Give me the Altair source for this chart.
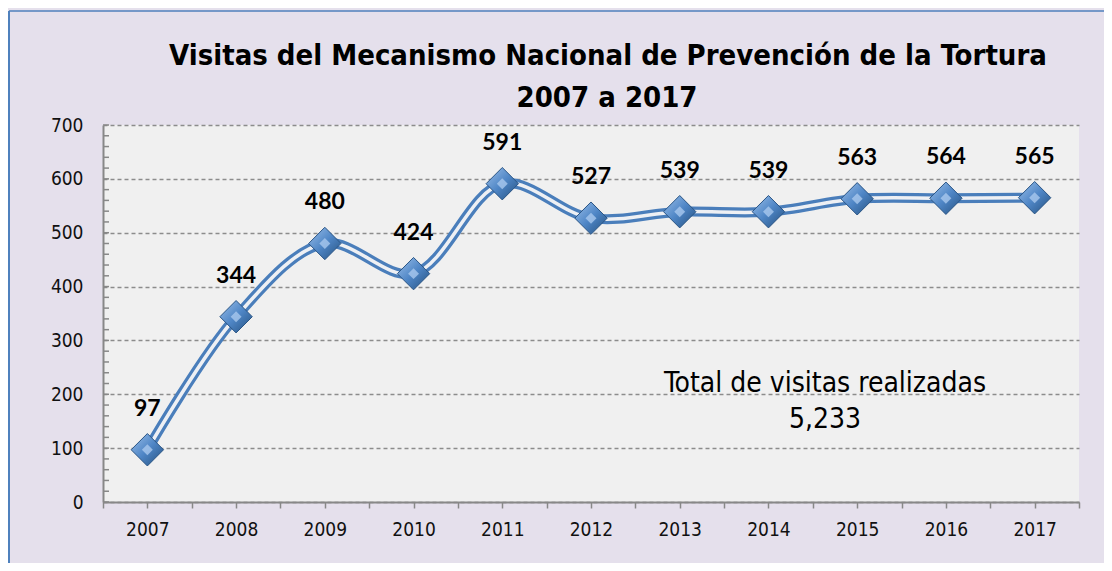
import altair as alt
import pandas as pd

years = [2007, 2008, 2009, 2010, 2011, 2012, 2013, 2014, 2015, 2016, 2017]
visitas = [97, 344, 480, 424, 591, 527, 539, 539, 563, 564, 565]
title_line1 = "Visitas del Mecanismo Nacional de Prevención de la Tortura"
title_line2 = "2007 a 2017"
total_lines = "Total de visitas realizadas\n5,233"
y_ticks = [0, 100, 200, 300, 400, 500, 600, 700]
y_minor = [v for v in range(0, 701, 20)]
x_ticks = [2006.5 + 0.5 * i for i in range(23)]

NARROW = "DejaVu Sans Condensed"
BLUE = "#4A7EBB"

df = pd.DataFrame({"year": years, "visitas": visitas})
minor_df = pd.DataFrame({"v": y_minor})
one = pd.DataFrame({"a": [0]})

xs = alt.Scale(domain=[2006.5, 2017.5], nice=False, zero=False)
ys = alt.Scale(domain=[0, 700], nice=False)

x_enc = alt.X("year:Q", scale=xs, title=None,
              axis=alt.Axis(values=x_ticks, labelExpr="datum.value % 1 == 0 ? format(datum.value, 'd') : ''",
                            labelOverlap=False, labelFlush=False,
                            grid=False, tickSize=6, tickColor="#888888", tickWidth=1.5,
                            domainColor="#888888", domainWidth=2, labelPadding=12,
                            labelFont=NARROW, labelFontSize=19, labelColor="#111111"))
y_enc = alt.Y("visitas:Q", scale=ys, title=None,
              axis=alt.Axis(values=y_ticks, grid=True, gridDash=[4, 3], gridColor="#8C8C8C",
                            gridWidth=1.3, ticks=False, domainColor="#888888", domainWidth=2,
                            labelPadding=20, labelFont=NARROW, labelFontSize=19, labelColor="#111111"))

base = alt.Chart(df)

minor = alt.Chart(minor_df).mark_rule(color="#888888", strokeWidth=1.5).encode(
    y=alt.Y("v:Q", scale=ys), x=alt.value(0), x2=alt.value(6))

line_outer = base.mark_line(interpolate="catmull-rom", strokeWidth=10, color=BLUE).encode(x=x_enc, y=y_enc)
line_inner = base.mark_line(interpolate="catmull-rom", strokeWidth=3.5, color="#EEF0F4").encode(
    x=alt.X("year:Q", scale=xs), y=alt.Y("visitas:Q", scale=ys))

grad = alt.Gradient(gradient="linear", x1=0, y1=0, x2=1, y2=1,
                    stops=[alt.GradientStop(color="#9CC0EA", offset=0),
                           alt.GradientStop(color="#4F86C6", offset=0.5),
                           alt.GradientStop(color="#24507F", offset=1)])
diamonds = base.mark_point(shape="diamond", size=1050, filled=True, color=grad, opacity=1,
                           stroke="#2A5585", strokeWidth=1).encode(
    x=alt.X("year:Q", scale=xs), y=alt.Y("visitas:Q", scale=ys))
highlight = base.mark_point(shape="diamond", size=120, filled=True, color="#A9C8EE", opacity=0.8).encode(
    x=alt.X("year:Q", scale=xs), y=alt.Y("visitas:Q", scale=ys))

labels = base.mark_text(font="Lato", fontWeight="bold", fontSize=23, color="#000000",
                        dy=-41, baseline="middle").encode(
    x=alt.X("year:Q", scale=xs), y=alt.Y("visitas:Q", scale=ys), text="visitas:Q")

total = alt.Chart(pd.DataFrame({"t": [total_lines]})).mark_text(
    font=NARROW, fontSize=28, lineBreak="\n", lineHeight=36, align="center",
    baseline="alphabetic", color="#000000").encode(
    x=alt.value(722), y=alt.value(267), text="t:N")

title1 = alt.Chart(pd.DataFrame({"t": [title_line1]})).mark_text(
    font=NARROW, fontSize=29, fontWeight="bold", align="center", baseline="alphabetic",
    color="#000000").encode(x=alt.value(505), y=alt.value(-60), text="t:N")
title2 = alt.Chart(pd.DataFrame({"t": [title_line2]})).mark_text(
    font=NARROW, fontSize=29, fontWeight="bold", align="center", baseline="alphabetic",
    color="#000000").encode(x=alt.value(504), y=alt.value(-18), text="t:N")

border_left = alt.Chart(one).mark_rule(color="#4F81BD", strokeWidth=2).encode(
    x=alt.value(-94), y=alt.value(-114), y2=alt.value(440))
border_top = alt.Chart(one).mark_rule(color="#4F81BD", strokeWidth=1.5).encode(
    y=alt.value(-114), x=alt.value(-94), x2=alt.value(1010))

chart = alt.layer(border_left, border_top, minor, line_outer, line_inner, diamonds, highlight,
                  labels, total, title1, title2).properties(
    width=976, height=377,
    padding={"left": 95, "top": 117, "right": 25, "bottom": 61},
    autosize=alt.AutoSizeParams(type="none"),
    background="#E5E0EC",
).configure_view(fill="#F0F0F0", stroke=None)

chart.save("out.html", embed_options={"renderer": "svg", "actions": False})
